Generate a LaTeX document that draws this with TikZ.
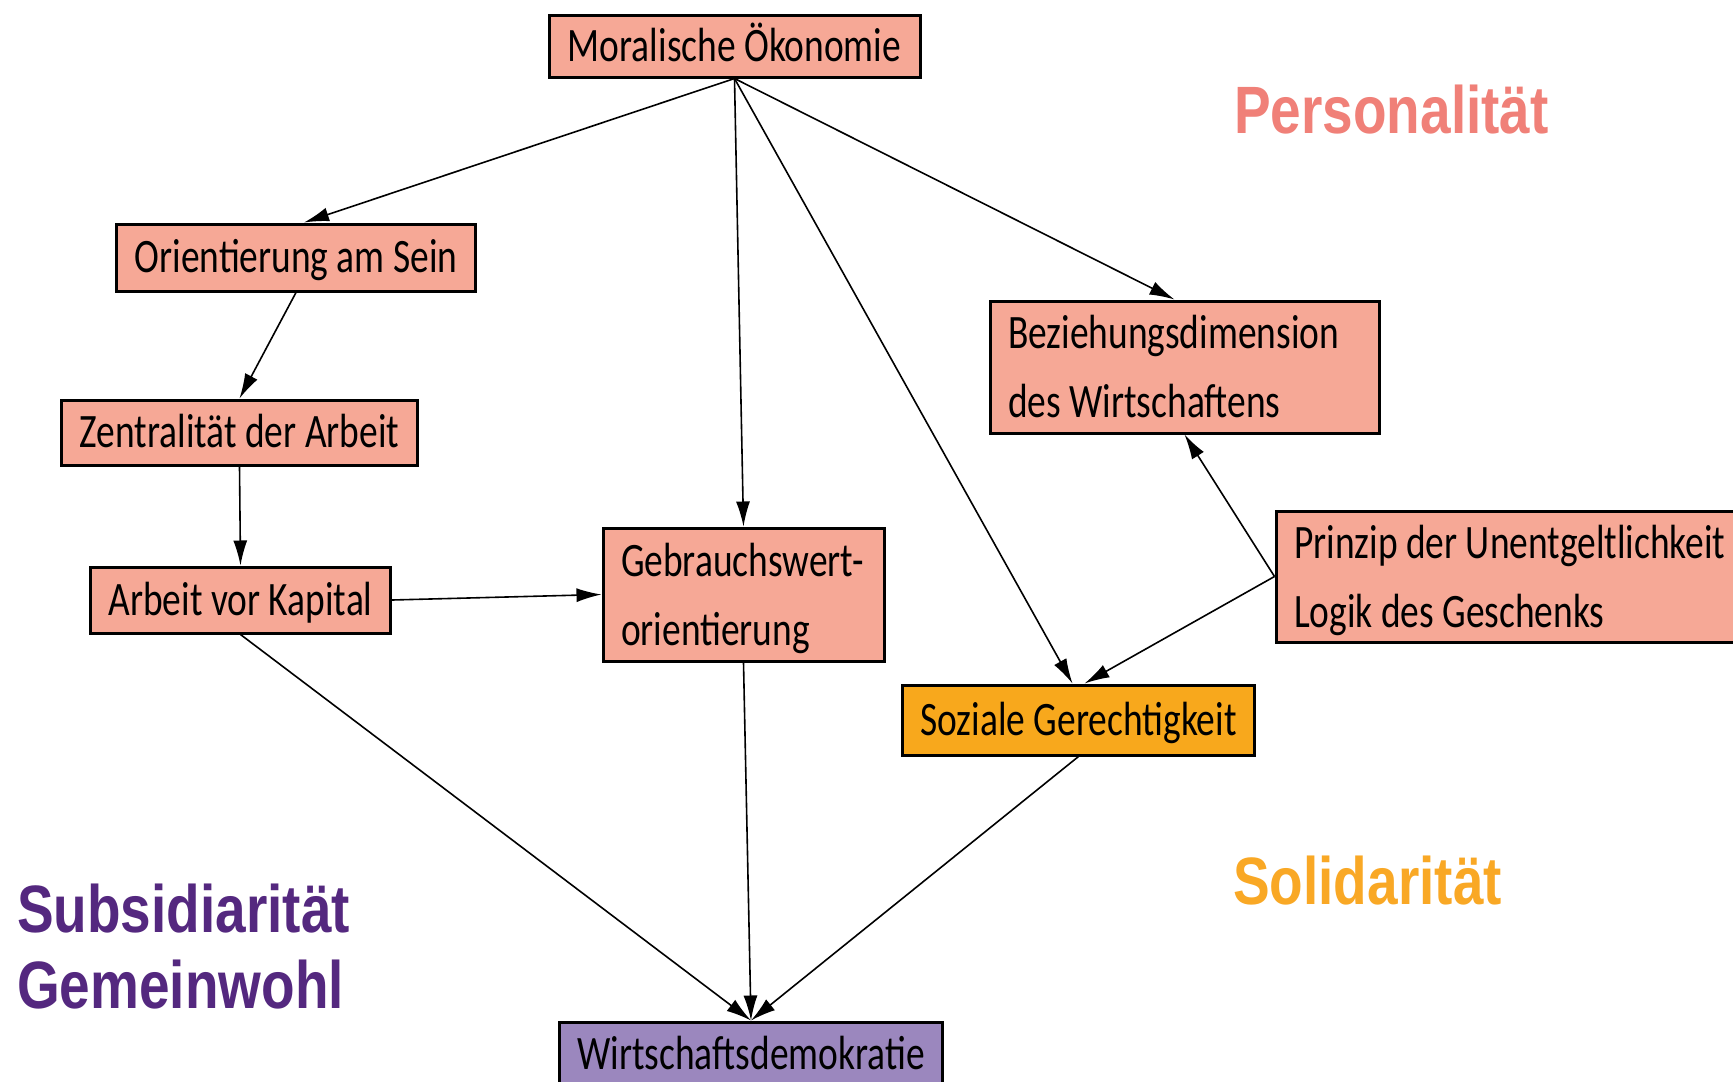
\documentclass[tikz,border=0pt]{standalone}
\usepackage{fontspec}
\setmainfont[FakeStretch=0.78]{Carlito}
\newfontfamily\bigfont[FakeStretch=0.82]{Liberation Sans}
\usetikzlibrary{arrows.meta}
\definecolor{salmon}{RGB}{246,168,150}
\definecolor{gold}{RGB}{248,168,28}
\definecolor{lilac}{RGB}{155,135,190}
\definecolor{perscol}{RGB}{240,128,120}
\definecolor{solcol}{RGB}{249,168,37}
\definecolor{subcol}{RGB}{84,40,127}
\newcommand{\twolines}[3]{\makebox[#1][l]{\begin{tabular}[t]{@{}l@{}}#2\\#3\end{tabular}}}
\begin{document}
\begin{tikzpicture}[x=1pt,y=-1pt,
  box/.style={draw=black,line width=3pt,inner xsep=18pt,inner ysep=0pt,font=\fontsize{48}{69}\selectfont,text height=36pt,text depth=6pt},
  twobox/.style={box,text depth=73pt},
  arr/.style={-{Latex[length=25pt,width=14pt]},line width=1.6pt},
  big/.style={font=\bigfont\bfseries\fontsize{67}{76}\selectfont,inner sep=0pt,anchor=base west}]
\useasboundingbox (0,0) rectangle (1733,1082);
\fill[white] (0,0) rectangle (1733,1082);

\node[box,fill=salmon,minimum width=371pt,minimum height=62pt] (moral) at (734.5,46) {Moralische Ökonomie};
\node[box,fill=salmon,minimum width=358pt,minimum height=67pt] (orient) at (296,257.5) {Orientierung am Sein};
\node[box,fill=salmon,minimum width=355pt,minimum height=65pt] (zent) at (239.5,432.5) {Zentralität der Arbeit};
\node[box,fill=salmon,minimum width=297pt,minimum height=66pt] (avk) at (240.5,600) {Arbeit vor Kapital};
\node[twobox,fill=salmon,minimum width=281pt,minimum height=133pt] (gebr) at (743.5,594.5) {\twolines{245pt}{Gebrauchswert-}{orientierung}};
\node[twobox,fill=salmon,minimum width=389pt,minimum height=132pt] (bez) at (1184.5,367) {\twolines{353pt}{Beziehungsdimension}{des Wirtschaftens}};
\node[twobox,fill=salmon,minimum width=476pt,minimum height=131pt] (prinz) at (1514,576.5) {\twolines{440pt}{Prinzip der Unentgeltlichkeit}{Logik des Geschenks}};
\node[box,fill=gold,minimum width=351pt,minimum height=70pt] (soz) at (1078.5,720) {Soziale Gerechtigkeit};
\node[box,fill=lilac,minimum width=382pt,minimum height=64pt] (wirt) at (751,1054) {Wirtschaftsdemokratie};

\draw[arr] (moral.south) -- ([xshift=8pt]orient.north);
\draw[arr] (moral.south) -- (gebr.north);
\draw[arr] (moral.south) -- ([xshift=-6pt]soz.north);
\draw[arr] (moral.south) -- ([xshift=-10pt]bez.north);
\draw[arr] (orient.south) -- (zent.north);
\draw[arr] (zent.south) -- (avk.north);
\draw[arr] (avk.east) -- (gebr.west);
\draw[arr] (avk.south) -- (wirt.north);
\draw[arr] (gebr.south) -- (wirt.north);
\draw[arr] (soz.south) -- (wirt.north);
\draw[arr] (prinz.west) -- (bez.south);
\draw[arr] (prinz.west) -- ([xshift=6pt]soz.north);

\node[big,text=perscol] (pers) at (1234,133) {Personalität};
\node[big,text=solcol] (sol) at (1233,904) {Solidarität};
\node[big,text=subcol] (sub) at (17,932) {Subsidiarität};
\node[big,text=subcol] (gem) at (17,1008) {Gemeinwohl};
\end{tikzpicture}
\end{document}
